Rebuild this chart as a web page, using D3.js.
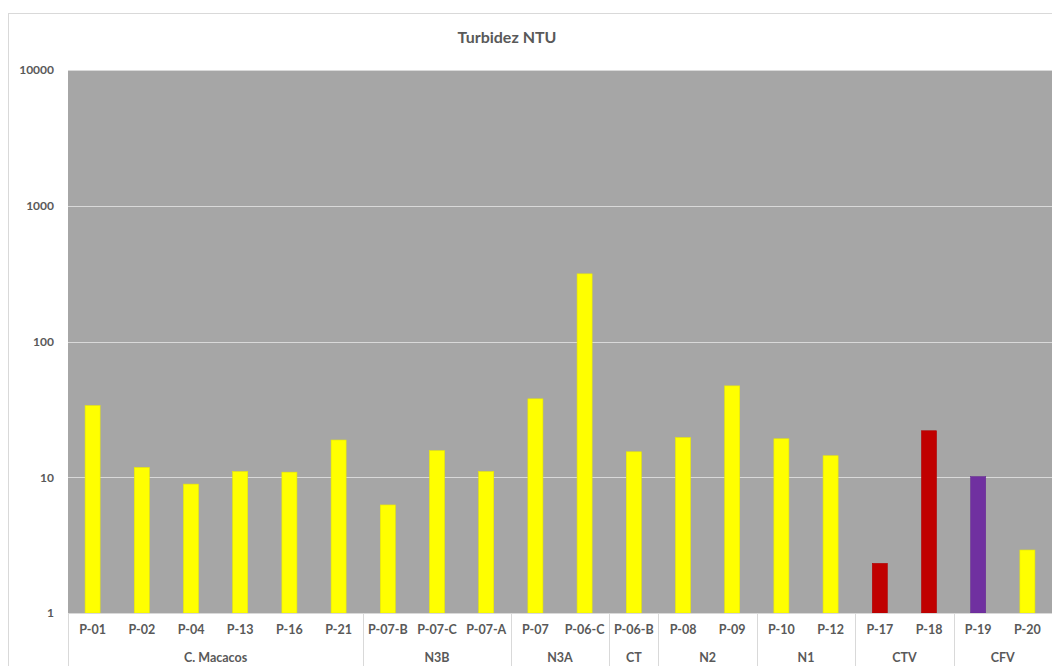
<!DOCTYPE html>
<html>
<head>
<meta charset="utf-8">
<script src="https://cdn.jsdelivr.net/npm/d3@7"></script>
<style>
  html, body { margin: 0; padding: 0; background: #fff; overflow: hidden; }
  svg { display: block; }
  text { font-family: Lato, "Open Sans", sans-serif; font-weight: bold; fill: #595959; }
</style>
</head>
<body>
<svg id="chart" width="1052" height="666"></svg>
<script>
const title = "Turbidez NTU";
const categories = ["P-01","P-02","P-04","P-13","P-16","P-21","P-07-B","P-07-C","P-07-A","P-07","P-06-C","P-06-B","P-08","P-09","P-10","P-12","P-17","P-18","P-19","P-20"];
const values = [33.7, 11.8, 8.9, 11.0, 10.9, 18.8, 6.25, 15.7, 11.0, 37.8, 315, 15.4, 19.6, 47.1, 19.2, 14.4, 2.32, 22.0, 10.1, 2.91];
const barColors = ["#FFFF00","#FFFF00","#FFFF00","#FFFF00","#FFFF00","#FFFF00","#FFFF00","#FFFF00","#FFFF00","#FFFF00","#FFFF00","#FFFF00","#FFFF00","#FFFF00","#FFFF00","#FFFF00","#C00000","#C00000","#7030A0","#FFFF00"];
const groupNames = ["C. Macacos","N3B","N3A","CT","N2","N1","CTV","CFV"];
const groupSizes = [6, 3, 2, 1, 2, 2, 2, 2];
const yTicks = [1, 10, 100, 1000, 10000];

const svg = d3.select("#chart");
const mLeft = 68, mRight = 1052, mTop = 70, mBottom = 613;

// chart area border
svg.append("rect").attr("x", 8.5).attr("y", 13.5).attr("width", 1100).attr("height", 700)
  .attr("fill", "#fff").attr("stroke", "#D9D9D9").attr("stroke-width", 1);

const p = 0.695;
const x = d3.scaleBand().domain(categories).range([mLeft, mRight]).paddingInner(p).paddingOuter(p / 2);
const y = d3.scaleLog().domain([1, 10000]).range([mBottom, mTop]);
const step = x.step();

// plot area
svg.append("rect").attr("x", mLeft).attr("y", mTop).attr("width", mRight - mLeft).attr("height", mBottom - mTop)
  .attr("fill", "#A6A6A6");

// gridlines
svg.append("g").selectAll("line").data(yTicks.filter(d => d > 1)).join("line")
  .attr("x1", mLeft).attr("x2", mRight)
  .attr("y1", d => Math.round(y(d)) + 0.5).attr("y2", d => Math.round(y(d)) + 0.5)
  .attr("stroke", "#D9D9D9").attr("stroke-width", 1.2);

// bars
svg.append("g").selectAll("rect").data(categories).join("rect")
  .attr("x", d => x(d)).attr("width", x.bandwidth())
  .attr("y", (d, i) => y(values[i])).attr("height", (d, i) => mBottom - y(values[i]))
  .attr("fill", (d, i) => barColors[i])
  .attr("stroke", (d, i) => d3.color(barColors[i]).darker(0.25)).attr("stroke-width", 0.6);

// y axis labels
const yAxis = d3.axisLeft(y).tickValues(yTicks).tickFormat(d3.format("d")).tickSize(0).tickPadding(0);
const yg = svg.append("g").attr("transform", `translate(${54},0)`).call(yAxis);
yg.select(".domain").remove();
yg.selectAll("text").style("font-size", "12px").attr("fill", "#595959")
  .style("font-family", "Lato, 'Open Sans', sans-serif").style("font-weight", "bold");

// x axis line
svg.append("line").attr("x1", mLeft).attr("x2", mRight).attr("y1", mBottom + 0.5).attr("y2", mBottom + 0.5)
  .attr("stroke", "#D9D9D9").attr("stroke-width", 1);

// category labels
const xAxis = d3.axisBottom(x).tickSize(0).tickPadding(0);
const xg = svg.append("g").attr("transform", `translate(0,${mBottom + 12})`).call(xAxis);
xg.select(".domain").remove();
xg.selectAll("text").style("font-size", "12.5px").attr("fill", "#595959")
  .style("font-family", "Lato, 'Open Sans', sans-serif").style("font-weight", "bold");

// group labels and separators
let acc = 0;
const bounds = [0];
groupSizes.forEach(n => { acc += n; bounds.push(acc); });
svg.append("g").selectAll("line").data(bounds).join("line")
  .attr("x1", d => Math.round(mLeft + d * step) + 0.5).attr("x2", d => Math.round(mLeft + d * step) + 0.5)
  .attr("y1", mBottom).attr("y2", 666)
  .attr("stroke", "#D9D9D9").attr("stroke-width", 1);

svg.append("g").selectAll("text").data(groupNames).join("text")
  .attr("x", (d, i) => mLeft + (bounds[i] + bounds[i + 1]) / 2 * step)
  .attr("y", 662)
  .attr("text-anchor", "middle")
  .style("font-size", "12.5px")
  .text(d => d);

// title
svg.append("text").attr("x", 507).attr("y", 43).attr("text-anchor", "middle")
  .style("font-size", "16px").text(title);
</script>
</body>
</html>
